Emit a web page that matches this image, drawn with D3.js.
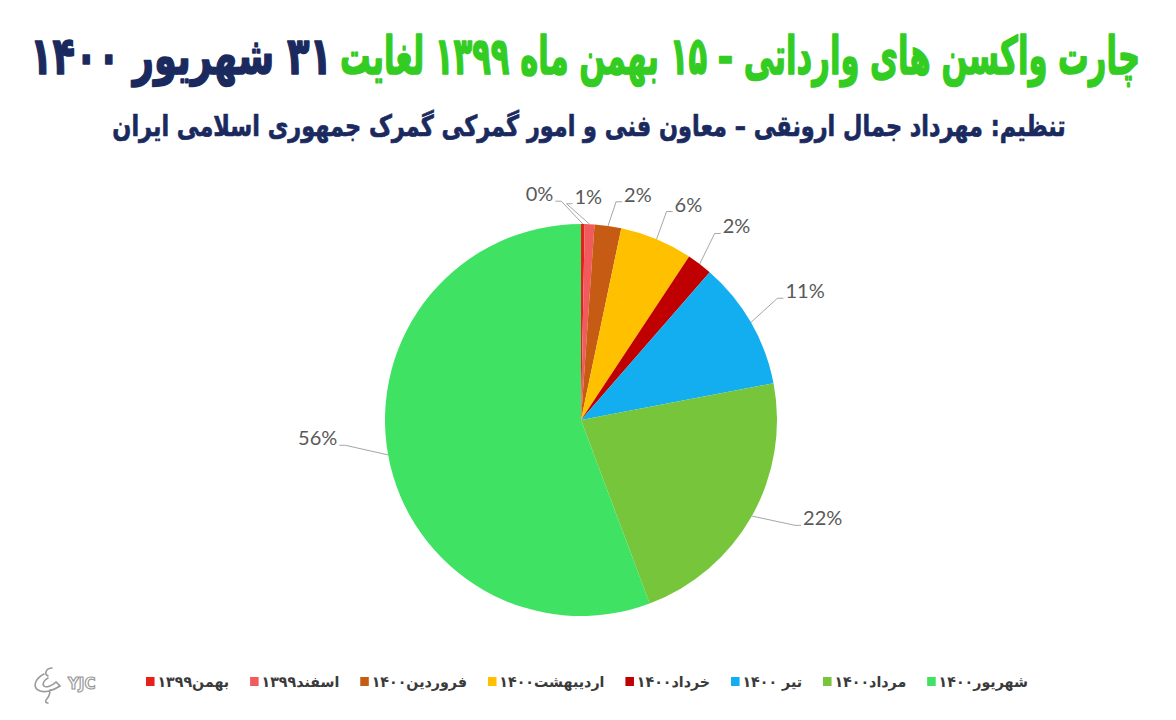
<!DOCTYPE html>
<html><head><meta charset="utf-8">
<script src="https://cdn.jsdelivr.net/npm/d3@7"></script>
<style>
html,body{margin:0;padding:0;background:#fff;}
svg{display:block;}
</style></head>
<body>
<svg id="chart" width="1176" height="720"></svg>
<script>
// ---- data ----
const categories = ["بهمن۱۳۹۹","اسفند۱۳۹۹","فروردین۱۴۰۰","اردیبهشت۱۴۰۰","خرداد۱۴۰۰","تیر ۱۴۰۰","مرداد۱۴۰۰","شهریور۱۴۰۰"];
const shares = [0.3, 0.8, 2.2, 6.0, 2.1, 10.6, 22.3, 55.7];
const colors = ["#e8201c","#f25b5e","#c65c14","#ffc000","#c00000","#12aeef","#77c53b","#3fe263"];
const titleGreen = "چارت واکسن های وارداتی – ۱۵ بهمن ماه ۱۳۹۹ لغایت";
const titleNavy = "۳۱ شهریور ۱۴۰۰";
const subtitle = "تنظیم: مهرداد جمال ارونقی – معاون فنی و امور گمرکی گمرک جمهوری اسلامی ایران";

const svg = d3.select("#chart");
const persian = "'DejaVu Sans', sans-serif";

// fit text into a box [x0,x1] at baseline y
function fitText(txt, x0, x1, y, size, color, sw) {
  const g = svg.append("g");
  const t = g.append("text").attr("x", 0).attr("y", 0)
    .attr("direction", "rtl").attr("text-anchor", "middle")
    .attr("font-family", persian).attr("font-weight", "bold")
    .attr("font-size", size).attr("fill", color)
    .attr("stroke", color).attr("stroke-width", sw).attr("stroke-linejoin", "round")
    .text(txt);
  const w = t.node().getBBox().width;
  g.attr("transform", `translate(${(x0 + x1) / 2},${y}) scale(${(x1 - x0) / w},1)`);
  return g;
}
fitText(titleGreen, 340, 1140, 74, 52, "#33cc22", 1.6);
fitText(titleNavy, 30, 332, 74, 52, "#1b2a5e", 1.6);
fitText(subtitle, 112, 1066, 136, 29, "#1b2a5e", 0.7);

// ---- pie ----
const cx = 581, cy = 420, r = 196;
const total = d3.sum(shares);
const pie = d3.pie().sort(null).value(d => d).startAngle(0).endAngle(2 * Math.PI);
const arcs = pie(shares);
const arc = d3.arc().innerRadius(0).outerRadius(r);
const pg = svg.append("g").attr("transform", `translate(${cx},${cy})`);
pg.selectAll("path").data(arcs).join("path")
  .attr("d", arc).attr("fill", (d, i) => colors[i]);

// label angles with simple relaxation
const mids = arcs.map(d => (d.startAngle + d.endAngle) / 2);
const ang = mids.slice();
const gap = 12.3 * Math.PI / 180;
for (let it = 0; it < 300; it++) {
  for (let i = 0; i < ang.length - 1; i++) {
    const dlt = ang[i + 1] - ang[i];
    if (dlt < gap) { const p = (gap - dlt) / 2; ang[i] -= p; ang[i + 1] += p; }
  }
}
// big slices: label pulled toward the horizontal
arcs.forEach((d, i) => {
  const frac = d.value / total;
  if (frac > 1 / 6) {
    const h = Math.sin(ang[i]) >= 0 ? Math.PI / 2 : 3 * Math.PI / 2;
    ang[i] += (h - ang[i]) * Math.min(1, 1.1 * frac);
  }
});
const lg = svg.append("g");
arcs.forEach((d, i) => {
  const th = ang[i];
  const R = r + 26 + 42 * Math.abs(Math.sin(th));
  const lx = cx + R * Math.sin(th), ly = cy - R * Math.cos(th);
  const t = lg.append("text").attr("x", lx).attr("y", ly + 7)
    .attr("text-anchor", "middle").attr("font-family", "Lato, 'Open Sans', sans-serif")
    .attr("font-size", 20).attr("fill", "#595959")
    .text(Math.round(shares[i]) + "%");
  const w = t.node().getBBox().width;
  const sx = cx + r * Math.sin(mids[i]), sy = cy - r * Math.cos(mids[i]);
  const right = Math.sin(th) >= 0;
  const ex = right ? lx - w / 2 - 2 : lx + w / 2 + 2;
  const ey = ly + 7;
  const bx = right ? ex - 6 : ex + 6;
  lg.insert("polyline", "text").attr("points", `${sx},${sy} ${bx},${ey} ${ex},${ey}`)
    .attr("fill", "none").attr("stroke", "#a6a6a6").attr("stroke-width", 1);
});

// ---- legend ----
const leg = svg.append("g");
let x = 0;
categories.forEach((c, i) => {
  leg.append("rect").attr("x", x).attr("y", -10).attr("width", 9).attr("height", 9).attr("fill", colors[i]);
  x += 12;
  const t = leg.append("text").attr("x", x).attr("y", 0)
    .attr("direction", "rtl").attr("text-anchor", "end")
    .attr("font-family", persian).attr("font-weight", "bold")
    .attr("font-size", 15).attr("fill", "#3a3a3a").text(c);
  const bb = t.node().getBBox();
  t.attr("x", x + (x - bb.x));
  x += bb.width + 22;
});
x -= 22;
leg.attr("transform", `translate(146,687) scale(${(1028 - 146) / x},1)`);

// ---- YJC logo ----
const logo = svg.append("g");
logo.append("path")
  .attr("d", "M52,668 c-6,0 -8,6 -4,8 M44,674 c-8,4 -12,12 -6,16 c6,4 16,0 22,-4 l-4,-4 c-4,4 -10,6 -12,4 c-2,-2 0,-6 4,-8 M50,690 c0,4 -2,8 -4,10 c-1,2 0,3 2,3")
  .attr("fill", "none").attr("stroke", "#9a9a9a").attr("stroke-width", 1.6).attr("stroke-linecap", "round");
logo.append("text").attr("x", 68).attr("y", 689)
  .attr("font-family", "'DejaVu Sans', sans-serif").attr("font-weight", "bold")
  .attr("font-size", 15).attr("fill", "#fff").attr("stroke", "#9a9a9a").attr("stroke-width", 1.2)
  .text("YJC");
</script>
</body></html>
